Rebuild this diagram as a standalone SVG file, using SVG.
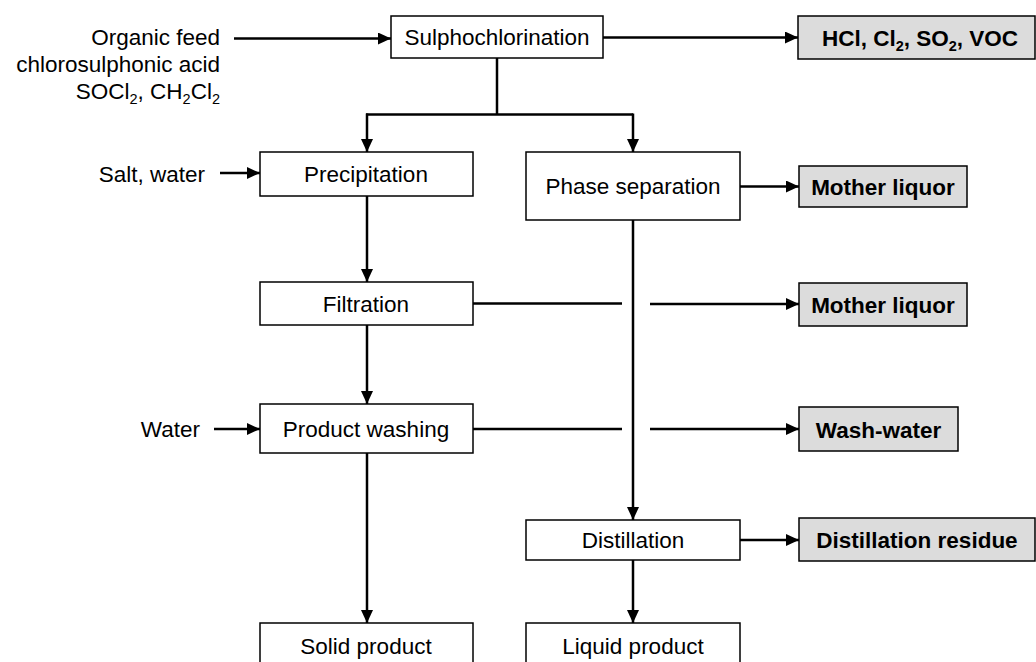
<svg xmlns="http://www.w3.org/2000/svg" width="1036" height="662" viewBox="0 0 1036 662">
<style>
.box{fill:#fff;stroke:#000;stroke-width:1.5}
.out{fill:#dcdcdc;stroke:#000;stroke-width:1.5}
.t{font-family:"Liberation Sans",Arial,sans-serif;font-size:22.5px;fill:#000}
.b{font-family:"Liberation Sans",Arial,sans-serif;font-size:22.5px;font-weight:bold;fill:#000}
.c{text-anchor:middle}
.r{text-anchor:end}
.s{font-size:14.5px}
.ln{fill:none;stroke:#000;stroke-width:2.5}
</style>
<defs>
<marker id="ah" markerUnits="userSpaceOnUse" markerWidth="14" markerHeight="12" refX="13" refY="6" orient="auto">
<path d="M0,0 L13,6 L0,12 Z" fill="#000"/>
</marker>
</defs>
<rect width="1036" height="662" fill="#fff"/>

<g id="inputs">
<text class="t r" x="220" y="45">Organic feed</text>
<text class="t r" x="220" y="72">chlorosulphonic acid</text>
<text class="t r" x="220" y="99">SOCl<tspan class="s" dy="5">2</tspan><tspan dy="-5">, CH</tspan><tspan class="s" dy="5">2</tspan><tspan dy="-5">Cl</tspan><tspan class="s" dy="5">2</tspan></text>
<text class="t r" x="205" y="182">Salt, water</text>
<text class="t r" x="200" y="437">Water</text>
</g>

<g id="sulphochlorination"><rect class="box" x="391" y="16" width="212" height="42"/><text class="t c" x="497" y="45">Sulphochlorination</text></g>
<g id="hcl"><rect class="out" x="798" y="16" width="237" height="43"/><text class="b c" x="920" y="46">HCl, Cl<tspan class="s" dy="5">2</tspan><tspan dy="-5">, SO</tspan><tspan class="s" dy="5">2</tspan><tspan dy="-5">, VOC</tspan></text></g>

<g id="precipitation"><rect class="box" x="260" y="152" width="213" height="44"/><text class="t c" x="366" y="182">Precipitation</text></g>
<g id="phase-separation"><rect class="box" x="526" y="152" width="214" height="68"/><text class="t c" x="633" y="194">Phase separation</text></g>
<g id="mother-liquor-1"><rect class="out" x="799" y="166" width="168" height="41"/><text class="b c" x="883" y="195">Mother liquor</text></g>

<g id="filtration"><rect class="box" x="260" y="282" width="213" height="43"/><text class="t c" x="366" y="312">Filtration</text></g>
<g id="mother-liquor-2"><rect class="out" x="799" y="283" width="168" height="43"/><text class="b c" x="883" y="313">Mother liquor</text></g>

<g id="product-washing"><rect class="box" x="260" y="404" width="213" height="49"/><text class="t c" x="366" y="437">Product washing</text></g>
<g id="wash-water"><rect class="out" x="799" y="407" width="159" height="44"/><text class="b c" x="878.5" y="438">Wash-water</text></g>

<g id="distillation"><rect class="box" x="526" y="520" width="214" height="40"/><text class="t c" x="633" y="548">Distillation</text></g>
<g id="distillation-residue"><rect class="out" x="799" y="518" width="236" height="43"/><text class="b c" x="917" y="548">Distillation residue</text></g>

<g id="solid-product"><rect class="box" x="260" y="623" width="213" height="48"/><text class="t c" x="366" y="654">Solid product</text></g>
<g id="liquid-product"><rect class="box" x="526" y="623" width="214" height="48"/><text class="t c" x="633" y="654">Liquid product</text></g>

<g id="connectors">
<path class="ln" d="M234,38.5 H391" marker-end="url(#ah)"/>
<path class="ln" d="M603,37.5 H798" marker-end="url(#ah)"/>
<path class="ln" d="M497,58 V114.5"/>
<path class="ln" d="M366,114.5 H633"/>
<path class="ln" d="M367,113.5 V152" marker-end="url(#ah)"/>
<path class="ln" d="M633,113.5 V152" marker-end="url(#ah)"/>
<path class="ln" d="M220,173 H260" marker-end="url(#ah)"/>
<path class="ln" d="M740,186.5 H799" marker-end="url(#ah)"/>
<path class="ln" d="M367,196 V282" marker-end="url(#ah)"/>
<path class="ln" d="M473,303.5 H622"/>
<path class="ln" d="M650,304 H799" marker-end="url(#ah)"/>
<path class="ln" d="M633,220 V520" marker-end="url(#ah)"/>
<path class="ln" d="M367,325 V404" marker-end="url(#ah)"/>
<path class="ln" d="M214,429 H260" marker-end="url(#ah)"/>
<path class="ln" d="M473,429 H622"/>
<path class="ln" d="M650,429 H799" marker-end="url(#ah)"/>
<path class="ln" d="M367,453 V623" marker-end="url(#ah)"/>
<path class="ln" d="M740,540 H799" marker-end="url(#ah)"/>
<path class="ln" d="M633,560 V623" marker-end="url(#ah)"/>
</g>
</svg>
